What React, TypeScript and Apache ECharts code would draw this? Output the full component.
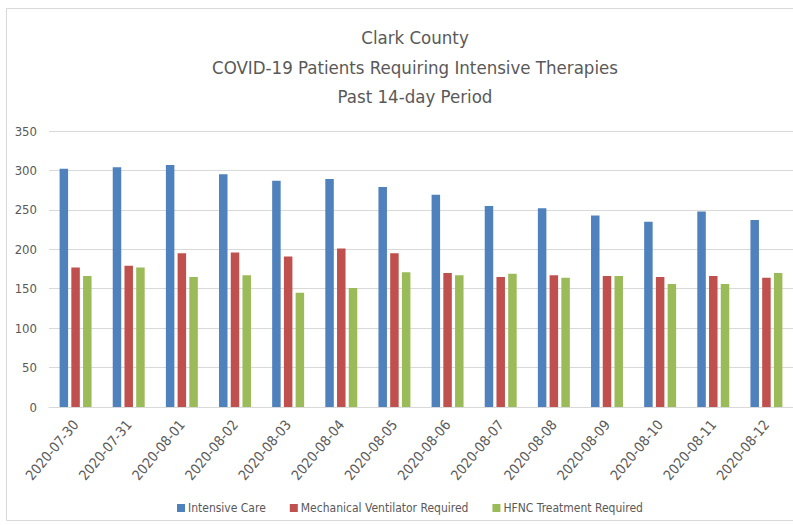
import React, { useEffect, useRef } from "react";
import * as echarts from "echarts";

const titleLines = [
  "Clark County",
  "COVID-19 Patients Requiring Intensive Therapies",
  "Past 14-day Period",
];

const dates = [
  "2020-07-30", "2020-07-31", "2020-08-01", "2020-08-02", "2020-08-03",
  "2020-08-04", "2020-08-05", "2020-08-06", "2020-08-07", "2020-08-08",
  "2020-08-09", "2020-08-10", "2020-08-11", "2020-08-12",
];

const intensiveCare = [302, 304, 307, 295, 287, 289, 279, 269, 255, 252, 243, 235, 248, 237];
const ventilator = [177, 179, 195, 196, 191, 201, 195, 170, 165, 167, 166, 165, 166, 164];
const hfnc = [166, 177, 165, 167, 145, 151, 171, 167, 169, 164, 166, 156, 156, 170];

const seriesNames = [
  "Intensive Care",
  "Mechanical Ventilator Required",
  "HFNC Treatment Required",
];
const colors = ["#4F81BD", "#C0504D", "#9BBB59"];

const yTicks = { min: 0, max: 350, interval: 50 };

const FONT = "'Liberation Sans Narrow', 'DejaVu Sans Condensed', 'Liberation Sans', sans-serif";

export default function App() {
  const ref = useRef<HTMLDivElement>(null);

  useEffect(() => {
    if (!ref.current) return;
    const chart = echarts.init(ref.current, undefined, { renderer: "svg" });
    const values = [intensiveCare, ventilator, hfnc];
    chart.setOption({
      animation: false,
      backgroundColor: "#ffffff",
      color: colors,
      textStyle: { fontFamily: FONT },
      graphic: [
        {
          type: "rect",
          shape: { x: 6.5, y: 8.5, width: 800, height: 512 },
          style: { fill: "none", stroke: "#d9d9d9", lineWidth: 1 },
          silent: true,
          z: -10,
        },
      ],
      title: {
        text: titleLines.join("\n"),
        left: 410,
        top: 18,
        textAlign: "center",
        textStyle: {
          fontFamily: FONT,
          fontSize: 18.5,
          fontWeight: "normal",
          color: "#595959",
          lineHeight: 29.5,
        },
      },
      legend: {
        data: seriesNames,
        left: 172,
        bottom: 6,
        icon: "rect",
        itemWidth: 8,
        itemHeight: 8,
        itemGap: 24,
        textStyle: { fontFamily: FONT, fontSize: 12, color: "#595959", padding: [0, 0, 0, -2] },
      },
      grid: {
        left: 49,
        right: -2,
        top: 131,
        bottom: 118,
        containLabel: false,
      },
      xAxis: {
        type: "category",
        data: dates,
        axisLine: { show: true, lineStyle: { color: "#d9d9d9", width: 1 } },
        axisTick: { show: false },
        axisLabel: {
          rotate: 50,
          interval: 0,
          margin: 15,
          fontFamily: FONT,
          fontSize: 14,
          color: "#595959",
        },
      },
      yAxis: {
        type: "value",
        min: yTicks.min,
        max: yTicks.max,
        interval: yTicks.interval,
        axisLine: { show: false },
        axisTick: { show: false },
        splitLine: { lineStyle: { color: "#d9d9d9", width: 1 } },
        axisLabel: {
          margin: 12,
          fontFamily: FONT,
          fontSize: 13,
          color: "#595959",
        },
      },
      series: seriesNames.map((name, i) => ({
        name,
        type: "bar",
        data: values[i],
        barWidth: 8.5,
        barGap: "38%",
        itemStyle: { color: colors[i] },
      })),
    });
    return () => chart.dispose();
  }, []);

  return (
    <div
      ref={ref}
      style={{ position: "absolute", left: 0, top: 0, width: 793, height: 525 }}
    />
  );
}
